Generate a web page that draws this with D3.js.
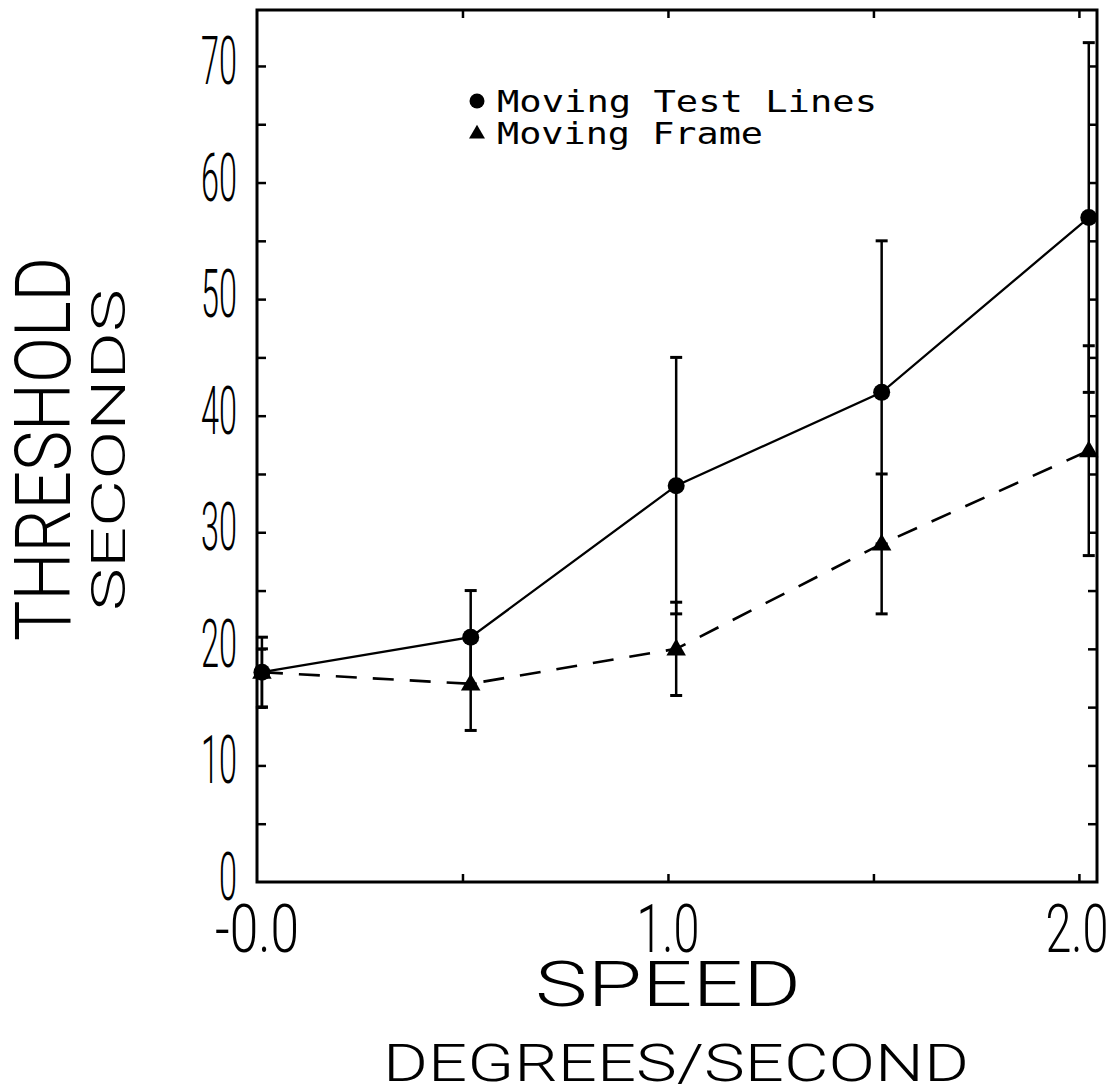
<!DOCTYPE html>
<html><head><meta charset="utf-8">
<script src="https://cdn.jsdelivr.net/npm/d3@7"></script>
<style>
html,body{margin:0;padding:0;background:#fff;}
text{font-family:Roboto,"DejaVu Sans",sans-serif;font-weight:300;fill:#000;}
.mono{font-family:"DejaVu Sans Mono","Liberation Mono",monospace;font-weight:normal;}
</style></head>
<body>
<svg id="chart" width="1119" height="1092"></svg>
<script>
// ---- data ----
const speeds     = [0.012, 0.52, 1.02, 1.52, 2.024];
const testLines  = [18, 21, 34, 42, 57];
const testLo     = [15, 17, 23, 29, 42];
const testHi     = [21, 25, 45, 55, 72];
const frame      = [18, 17, 20, 29, 37];
const frameLo    = [15, 13, 16, 23, 28];
const frameHi    = [20, 21, 24, 35, 46];
const yTickVals  = [0, 10, 20, 30, 40, 50, 60, 70];
const yTickLabels= ["0","10","20","30","40","50","60","70"];
const xTickVals  = [0, 1, 2];
const xTickLabels= ["-0.0","1.0","2.0"];
const legendLabels = ["Moving Test Lines", "Moving Frame"];

const svg = d3.select("#chart");
const L = 257, R = 1097, T = 10, B = 882;
const x = d3.scaleLinear().domain([0, 2.044]).range([L, R]);
const y = d3.scaleLinear().domain([0, 74.8]).range([B, T]);

// frame
svg.append("rect").attr("x", L).attr("y", T).attr("width", R - L).attr("height", B - T)
  .attr("fill", "none").attr("stroke", "#000").attr("stroke-width", 3);

// axes with inward ticks
const minorY = d3.range(5, 75, 5);
const axL = d3.axisRight(y).tickValues(minorY).tickSize(9).tickFormat("");
const axR = d3.axisLeft(y).tickValues(minorY).tickSize(9).tickFormat("");
const minorX = [0.5, 1.0, 1.5, 2.0];
const axB = d3.axisTop(x).tickValues(minorX).tickSize(8).tickFormat("");
const axT = d3.axisBottom(x).tickValues(minorX).tickSize(8).tickFormat("");
[[axL, `translate(${L},0)`], [axR, `translate(${R},0)`], [axB, `translate(0,${B})`], [axT, `translate(0,${T})`]]
  .forEach(([a, tr]) => {
    const g = svg.append("g").attr("transform", tr).call(a);
    g.select(".domain").remove();
    g.selectAll("line").attr("stroke", "#000").attr("stroke-width", 2.5);
  });

// tick labels
svg.append("g").selectAll("text").data(yTickVals).join("text")
  .attr("x", 237).attr("y", d => y(d) + 18)
  .attr("text-anchor", "end")
  .attr("font-size", 66)
  .attr("textLength", (d, i) => yTickLabels[i].length * 18)
  .attr("lengthAdjust", "spacingAndGlyphs")
  .text((d, i) => yTickLabels[i]);

svg.append("g").selectAll("text").data(xTickVals).join("text")
  .attr("x", d => x(d) + (d === 2 ? -2 : 0)).attr("y", 952)
  .attr("text-anchor", "middle")
  .attr("font-size", 67)
  .attr("textLength", (d, i) => xTickLabels[i].length * 21)
  .attr("lengthAdjust", "spacingAndGlyphs")
  .text((d, i) => xTickLabels[i]);

// axis titles
svg.append("text").attr("x", 668).attr("y", 1006).attr("text-anchor", "middle")
  .attr("font-size", 63).attr("textLength", 266).attr("lengthAdjust", "spacingAndGlyphs").text("SPEED");
svg.append("text").attr("x", 676).attr("y", 1081).attr("text-anchor", "middle")
  .attr("font-size", 51).attr("textLength", 586).attr("lengthAdjust", "spacingAndGlyphs").text("DEGREES/SECOND");
svg.append("text").attr("transform", "translate(70,449) rotate(-90)").attr("text-anchor", "middle")
  .attr("font-size", 77).attr("textLength", 384).attr("lengthAdjust", "spacingAndGlyphs").text("THRESHOLD");
svg.append("text").attr("transform", "translate(125,450) rotate(-90)").attr("text-anchor", "middle")
  .attr("font-size", 49).attr("textLength", 322).attr("lengthAdjust", "spacingAndGlyphs").text("SECONDS");

// error bars
function errorBars(lo, hi) {
  const g = svg.append("g").attr("stroke", "#000").attr("stroke-width", 2.5);
  speeds.forEach((s, i) => {
    const cx = x(s);
    g.append("line").attr("x1", cx).attr("x2", cx).attr("y1", y(lo[i])).attr("y2", y(hi[i]));
    [lo[i], hi[i]].forEach(v => g.append("line").attr("x1", cx - 6).attr("x2", cx + 6)
      .attr("y1", y(v)).attr("y2", y(v)).attr("stroke-width", 3));
  });
}
errorBars(testLo, testHi);
errorBars(frameLo, frameHi);

// lines
const line = d3.line().x(d => x(d[0])).y(d => y(d[1]));
svg.append("path").datum(speeds.map((s, i) => [s, testLines[i]])).attr("d", line)
  .attr("fill", "none").attr("stroke", "#000").attr("stroke-width", 2.3);
svg.append("path").datum(speeds.map((s, i) => [s, frame[i]])).attr("d", line)
  .attr("fill", "none").attr("stroke", "#000").attr("stroke-width", 2.6).attr("stroke-dasharray", "21,16");

// markers
const tri = d3.symbol().type(d3.symbolTriangle).size(165);
svg.append("g").selectAll("circle").data(speeds).join("circle")
  .attr("cx", d => x(d)).attr("cy", (d, i) => y(testLines[i])).attr("r", 8.5).attr("fill", "#000");
svg.append("g").selectAll("path").data(speeds).join("path")
  .attr("d", tri).attr("transform", (d, i) => `translate(${x(d)},${y(frame[i]) + 1})`).attr("fill", "#000");

// legend
svg.append("circle").attr("cx", 477).attr("cy", 101).attr("r", 7.5).attr("fill", "#000");
svg.append("path").attr("d", d3.symbol().type(d3.symbolTriangle).size(110)).attr("transform", "translate(477,134)").attr("fill", "#000");
svg.append("text").attr("class", "mono").attr("x", 497).attr("y", 112).attr("font-size", 31)
  .attr("textLength", 380).attr("lengthAdjust", "spacingAndGlyphs").text(legendLabels[0]);
svg.append("text").attr("class", "mono").attr("x", 497).attr("y", 144).attr("font-size", 31)
  .attr("textLength", 266).attr("lengthAdjust", "spacingAndGlyphs").text(legendLabels[1]);
</script>
</body></html>
